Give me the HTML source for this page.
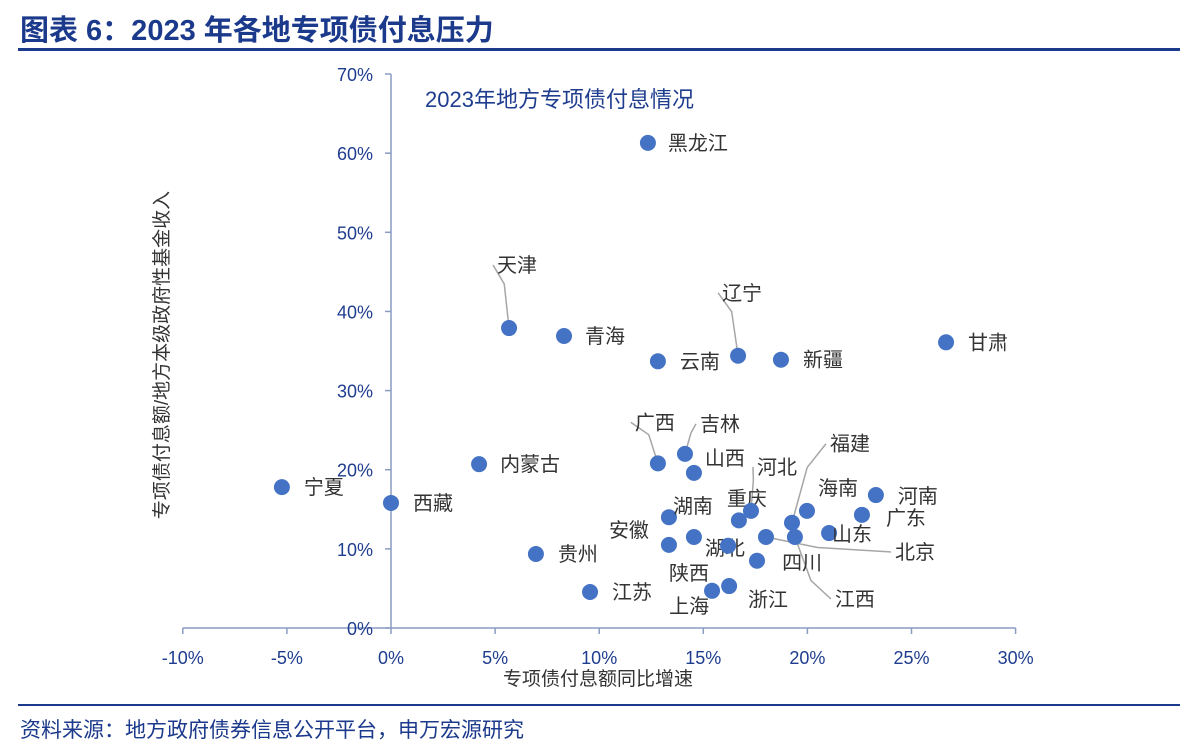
<!DOCTYPE html>
<html><head><meta charset="utf-8">
<style>
body{margin:0;background:#fff;width:1198px;height:752px;overflow:hidden;font-family:"Liberation Sans","Noto Sans CJK SC",sans-serif;}
svg{position:absolute;left:0;top:0;}
</style></head>
<body>
<svg id="chart" width="1198" height="752">
<text x="20" y="40" font-size="29" font-weight="bold" fill="#1c3a8c" font-family="Liberation Sans,Noto Sans CJK SC,sans-serif">图表 6：2023 年各地专项债付息压力</text>
<rect x="18" y="48" width="1162" height="3" fill="#1c3a8c"/>
<rect x="18" y="704" width="1162" height="2" fill="#1c3a8c"/>
<text x="20" y="737" font-size="21" fill="#1c3a8c">资料来源：地方政府债券信息公开平台，申万宏源研究</text>
<text x="425" y="107" font-size="22" fill="#1f3d8f">2023年地方专项债付息情况</text>
<text x="598" y="685" font-size="19" fill="#333" text-anchor="middle">专项债付息额同比增速</text>
<text transform="translate(168,355) rotate(-90)" font-size="19" fill="#333" text-anchor="middle">专项债付息额/地方本级政府性基金收入</text>
<g id="plot"></g>
</svg>
<script>
const names=["黑龙江","天津","青海","云南","辽宁","新疆","甘肃","内蒙古","宁夏","西藏","贵州","江苏","广西","吉林","山西","湖南","安徽","湖北","四川","重庆","河北","福建","海南","河南","广东","山东","北京","江西","陕西","上海","浙江"];
const xVals=[12.34,5.67,8.31,12.82,16.67,18.73,26.66,4.23,-5.24,0,6.96,9.56,12.82,14.12,14.55,13.35,13.35,14.55,16.19,16.71,17.29,19.26,19.98,23.29,22.62,21.04,18.01,19.40,15.42,16.24,17.58];
const yVals=[61.3,37.9,36.9,33.7,34.4,33.9,36.1,20.7,17.8,15.8,9.35,4.55,20.8,22.0,19.6,14.0,10.5,11.5,10.4,13.6,14.8,13.3,14.8,16.8,14.3,12.0,11.5,11.5,4.7,5.3,8.5];
const xTicks=[-10,-5,0,5,10,15,20,25,30];
const yTicks=[0,10,20,30,40,50,60,70];
// label offsets (styling) and leader flags
const lab=[[20,0,0],[-12,-63,1],[21,0,0],[22,0,0],[-16,-63,1],[22,0,0],[22,0,0],[21,0,0],[22,0,0],[22,0,0],[22,0,0],[22,0,0],[-23,-41,1],[15,-30,1],[11,-15,0],[4,-11,0],[-60,-15,0],[11,11,0],[54,17,0],[-12,-22,0],[6,-44,1],[38,-79,1],[11,-23,0],[22,1,0],[24,3,0],[3,1,0],[129,15,1],[40,62,1],[-43,-18,0],[-60,20,0],[-9,39,0]];
const NS="http://www.w3.org/2000/svg";
const g=document.getElementById('plot');
const X=v=>391+(v)*20.82, Y=v=>628-v*7.914;
function mk(t,a){const e=document.createElementNS(NS,t);for(const k in a)e.setAttribute(k,a[k]);g.appendChild(e);return e;}
let ax=mk('line',{x1:X(-10),x2:X(30),y1:Y(0),y2:Y(0),stroke:'#8a9cc2','stroke-width':1.5});


let ay=mk('line',{x1:X(0),x2:X(0),y1:Y(0),y2:Y(70),stroke:'#8a9cc2','stroke-width':1.5});


xTicks.forEach(t=>{
 const l=mk('line',{x1:X(t),x2:X(t),y1:Y(0),y2:Y(0)+6,stroke:'#8a9cc2','stroke-width':1.5});
 
 
 const tx=mk('text',{x:X(t),y:664,'font-size':18,fill:'#1f3d8f','text-anchor':'middle'});
 tx.textContent=t+'%';
 
 
});
yTicks.forEach(t=>{
 const l=mk('line',{x1:X(0)-6,x2:X(0),y1:Y(t),y2:Y(t),stroke:'#8a9cc2','stroke-width':1.5});
 
 
 const tx=mk('text',{x:373,y:Y(t)+7,'font-size':18,fill:'#1f3d8f','text-anchor':'end'});
 tx.textContent=t+'%';
 
 
});
names.forEach((n,i)=>{
 const cx=X(xVals[i]),cy=Y(yVals[i]);const o=lab[i];
 if(o[2]){
  const ln=mk('polyline',{points:`${cx},${cy} ${cx+o[0]*0.4},${cy+o[1]*0.7} ${cx+o[0]-4},${cy+o[1]}`,fill:'none',stroke:'#a6a6a6','stroke-width':1.5});
  
  
 }
});
names.forEach((n,i)=>{
 const cx=X(xVals[i]),cy=Y(yVals[i]);const o=lab[i];
 const c=mk('circle',{cx:cx,cy:cy,r:8,fill:'#4472c4'});
 
 
 const t=mk('text',{x:cx+o[0],y:cy+o[1]+7,'font-size':20,fill:'#333'});
 t.textContent=n;
 
 
});
</script>
</body></html>
